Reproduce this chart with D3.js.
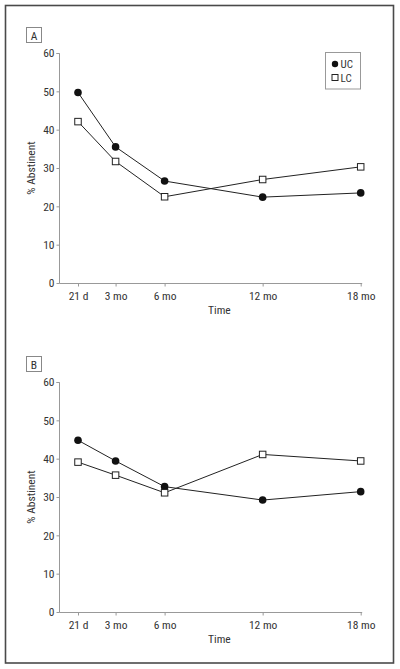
<!DOCTYPE html>
<html>
<head>
<meta charset="utf-8">
<script src="https://cdn.jsdelivr.net/npm/d3@7"></script>
<style>
  html, body { margin: 0; padding: 0; background: #fff; }
  svg { display: block; }
  text { font-family: "Roboto Condensed", "Liberation Sans", sans-serif; fill: #333; }
</style>
</head>
<body>
<svg id="chart" width="400" height="669"></svg>
<script>
// ---- data ----
const timeLabels = ["21 d", "3 mo", "6 mo", "12 mo", "18 mo"];
const timeMonths = [0.7, 3, 6, 12, 18];
const yTicks = [0, 10, 20, 30, 40, 50, 60];
const seriesNames = ["UC", "LC"];
const panelA_UC = [49.7, 35.5, 26.6, 22.4, 23.5];
const panelA_LC = [42.1, 31.7, 22.5, 27.0, 30.3];
const panelB_UC = [44.8, 39.4, 32.7, 29.2, 31.4];
const panelB_LC = [39.1, 35.7, 31.1, 41.1, 39.4];

const FONT = '"Roboto Condensed", "Liberation Sans", sans-serif';
const svg = d3.select("#chart");

// outer frame
svg.append("rect")
  .attr("x", 5.5).attr("y", 5.5).attr("width", 388).attr("height", 657.5)
  .attr("fill", "none").attr("stroke", "#4a4a4a").attr("stroke-width", 1.6);

const x = d3.scaleLinear().domain([0.7, 18]).range([78, 360.7]);

function panel(label, top, uc, lc, showLegend) {
  const g = svg.append("g");
  const y = d3.scaleLinear().domain([0, 60]).range([top + 230, top]);

  // panel label box
  g.append("rect").attr("x", 26.5).attr("y", top - 25.5).attr("width", 15).attr("height", 15)
    .attr("fill", "#fff").attr("stroke", "#888").attr("stroke-width", 1);
  g.append("text").attr("x", 34).attr("y", top - 13.5).attr("text-anchor", "middle")
    .attr("font-size", 11.5).text(label);

  // y axis
  const yAxis = d3.axisLeft(y).tickValues(yTicks).tickSize(3).tickPadding(2);
  const ya = g.append("g").attr("transform", "translate(59.5,0)").call(yAxis);
  ya.select(".domain").attr("stroke", "#999").attr("d", `M-3,${y(60)+0.5}H0V${y(0)+0.5}`);
  ya.selectAll(".tick line").attr("stroke", "#999");
  ya.selectAll(".tick text").attr("font-size", 11.5).attr("fill", "#333").style("font-family", FONT);

  // x axis
  const xAxis = d3.axisBottom(x).tickValues(timeMonths).tickFormat((d, i) => timeLabels[i])
    .tickSize(3).tickPadding(5);
  const xa = g.append("g").attr("transform", `translate(0,${y(0) + 0.5})`).call(xAxis);
  xa.select(".domain").attr("stroke", "#999").attr("d", `M59.5,0H${x(18) + 1.5}`);
  xa.selectAll(".tick line").attr("stroke", "#999");
  xa.selectAll(".tick text").attr("font-size", 11.5).attr("fill", "#333").style("font-family", FONT);

  // axis titles
  g.append("text").attr("x", (x(0.7) + x(18)) / 2).attr("y", y(0) + 31)
    .attr("text-anchor", "middle").attr("font-size", 11.5).text("Time");
  g.append("text").attr("transform", `translate(34.5,${(y(0) + y(60)) / 2}) rotate(-90)`)
    .attr("text-anchor", "middle").attr("font-size", 11.5).text("% Abstinent");

  const line = d3.line().x((d, i) => x(timeMonths[i])).y(d => y(d));

  // series lines
  [uc, lc].forEach(vals => {
    g.append("path").datum(vals).attr("d", line)
      .attr("fill", "none").attr("stroke", "#222").attr("stroke-width", 1);
  });

  // UC markers: filled circles
  g.selectAll(".uc").data(uc).enter().append("circle")
    .attr("cx", (d, i) => x(timeMonths[i])).attr("cy", d => y(d)).attr("r", 3.8)
    .attr("fill", "#111");

  // LC markers: open squares
  const s = 6.5;
  g.selectAll(".lc").data(lc).enter().append("rect")
    .attr("x", (d, i) => x(timeMonths[i]) - s / 2).attr("y", d => y(d) - s / 2)
    .attr("width", s).attr("height", s)
    .attr("fill", "#fff").attr("stroke", "#222").attr("stroke-width", 1);

  if (showLegend) {
    const lg = g.append("g");
    lg.append("rect").attr("x", 325.5).attr("y", top - 0.5).attr("width", 35).attr("height", 36.5)
      .attr("fill", "#fff").attr("stroke", "#999").attr("stroke-width", 1);
    lg.append("circle").attr("cx", 335).attr("cy", top + 11).attr("r", 3.2).attr("fill", "#111");
    lg.append("rect").attr("x", 332).attr("y", top + 21.5).attr("width", 6).attr("height", 6)
      .attr("fill", "#fff").attr("stroke", "#222").attr("stroke-width", 1);
    lg.append("text").attr("x", 340.5).attr("y", top + 15).attr("font-size", 11).text(seriesNames[0]);
    lg.append("text").attr("x", 340.5).attr("y", top + 28.5).attr("font-size", 11).text(seriesNames[1]);
  }
}

panel("A", 53, panelA_UC, panelA_LC, true);
panel("B", 382, panelB_UC, panelB_LC, false);
</script>
</body>
</html>
